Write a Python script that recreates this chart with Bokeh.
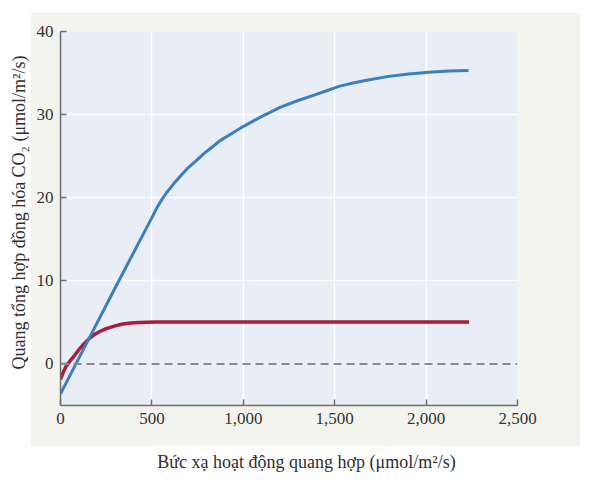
import math
from bokeh.plotting import figure
from bokeh.layouts import column, row
from bokeh.models import Range1d, FixedTicker, NumeralTickFormatter, Span, Spacer
from bokeh.core.properties import value
from bokeh.embed import file_html
from bokeh.resources import INLINE

# ---- data ----
blue_x = [0, 150, 300, 450, 500, 530, 555, 580, 620, 660, 693, 740, 784, 830, 875,
          935, 994, 1094, 1204, 1300, 1395, 1460, 1523, 1600, 1668, 1796, 1905,
          2015, 2124, 2232]
blue_y = [-3.6, 2.8, 9.2, 15.5, 17.6, 18.9, 19.8, 20.6, 21.7, 22.7, 23.5, 24.4,
          25.3, 26.1, 26.9, 27.7, 28.5, 29.7, 30.9, 31.7, 32.4, 32.9, 33.4, 33.8,
          34.1, 34.6, 34.9, 35.1, 35.25, 35.3]
red_x = [0, 15, 30, 50, 73, 100, 128, 155, 182, 215, 250, 295, 340, 385, 430, 520, 2235]
red_y = [-1.85, -1.0, -0.3, 0.3, 0.9, 1.7, 2.4, 3.0, 3.5, 3.9, 4.25, 4.55, 4.8,
         4.93, 5.0, 5.05, 5.05]

x_ticks = [0, 500, 1000, 1500, 2000, 2500]
y_ticks = [0, 10, 20, 30, 40]
x_label = "Bức xạ hoạt động quang hợp (μmol/m²/s)"
y_label = "Quang tổng hợp đồng hóa CO₂ (μmol/m²/s)"

FONT = "Liberation Serif"
BEIGE = "#f4f4ef"
PANEL = "#e9eef6"
AXIS = "#6e6e6e"

# ---- main chart ----
p = figure(width=550, height=434, x_range=Range1d(0, 2500), y_range=Range1d(-5, 40),
           output_backend="svg", toolbar_location=None,
           min_border_left=30, min_border_right=63, min_border_top=19, min_border_bottom=41,
           background_fill_color=PANEL, border_fill_color=BEIGE, outline_line_color=None)

for ax in (p.xaxis[0], p.yaxis[0]):
    ax.axis_line_color = AXIS
    ax.axis_line_width = 1.5
    ax.major_tick_line_color = AXIS
    ax.major_tick_line_width = 1.5
    ax.major_tick_in = 6
    ax.major_tick_out = 0
    ax.minor_tick_line_color = None
    ax.major_label_text_font = FONT
    ax.major_label_text_font_size = "17px"
    ax.major_label_text_color = "#333333"

p.xaxis.ticker = FixedTicker(ticks=x_ticks)
p.xaxis.formatter = NumeralTickFormatter(format="0,0")
p.xaxis.major_label_standoff = 7
p.yaxis.ticker = FixedTicker(ticks=y_ticks)
p.yaxis.major_label_standoff = 7

p.xgrid.ticker = FixedTicker(ticks=[500, 1000, 1500, 2000])
p.ygrid.ticker = FixedTicker(ticks=[10, 20, 30])
p.grid.grid_line_color = "white"
p.grid.grid_line_width = 1.5

zero = Span(location=0, dimension="width", line_color="#8c8c8c", line_width=2,
            line_dash="8 5")
p.add_layout(zero)

p.line(red_x, red_y, line_color="#a81c3e", line_width=3.5, line_join="round")
p.line(blue_x, blue_y, line_color="#3c7fc1", line_width=3, line_join="round")

# ---- y-axis label panel ----
ylab = figure(width=30, height=434, x_range=Range1d(0, 30), y_range=Range1d(0, 434),
              x_axis_type=None, y_axis_type=None, output_backend="svg",
              toolbar_location=None, min_border=0, outline_line_color=None,
              background_fill_color="white", border_fill_color="white")
ylab.text(x=[18], y=[224], text=[y_label], angle=math.pi / 2,
          text_align="center", text_baseline="middle",
          text_font=value(FONT), text_font_size="18px", text_color="#2e2e2e")

# ---- x-axis label panel ----
xlab = figure(width=580, height=34, x_range=Range1d(0, 580), y_range=Range1d(0, 34),
              x_axis_type=None, y_axis_type=None, output_backend="svg",
              toolbar_location=None, min_border=0, outline_line_color=None,
              background_fill_color="white", border_fill_color="white")
xlab.text(x=[306], y=[19], text=[x_label],
          text_align="center", text_baseline="middle",
          text_font=value(FONT), text_font_size="18px", text_color="#2e2e2e")

layout = column(Spacer(width=580, height=12), row(ylab, p), xlab)

open("out.html", "w").write(file_html(layout, INLINE))
